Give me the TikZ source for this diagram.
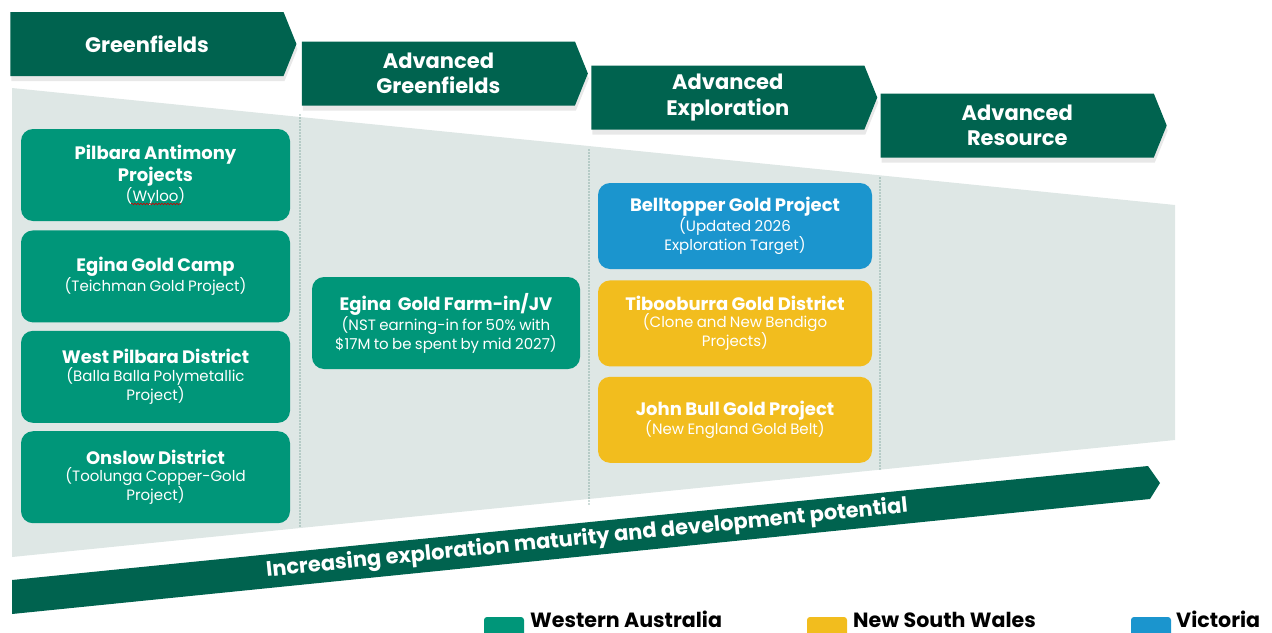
\documentclass[tikz,border=0pt]{standalone}
\usepackage{fontspec}
\setmainfont{Poppins}
\usetikzlibrary{shapes.symbols,positioning,shadows,decorations.pathmorphing}

\definecolor{stagegreen}{HTML}{00634F}
\definecolor{wagreen}{HTML}{009679}
\definecolor{nswyellow}{HTML}{F2BD1E}
\definecolor{vicblue}{HTML}{1B95CE}
\definecolor{funnelgrey}{HTML}{DEE7E5}
\definecolor{dotgreen}{HTML}{2E6E60}

\newcommand\titlefont{\fontsize{18}{22}\selectfont\bfseries}
\newcommand\subfont{\fontsize{15}{17.5}\selectfont}
\newcommand\proj[2]{{\titlefont #1\par}{\subfont #2\par}}

\begin{document}
\begin{tikzpicture}[
		x=1pt, y=-1pt,
		node distance=8pt,
		stage/.style={signal, signal to=east, signal from=nowhere, signal pointer angle=136,
			fill=stagegreen, text=white, inner sep=0pt, align=center,
			minimum width=286pt, minimum height=64pt,
			font=\fontsize{21}{25.5}\selectfont\bfseries,
			drop shadow={opacity=0.18, shadow xshift=1pt, shadow yshift=-5pt}},
		project/.style={rectangle, rounded corners=12pt, text=white, inner sep=2pt,
			text width=262pt, align=center, minimum width=269pt, minimum height=92pt},
		wa/.style={project, fill=wagreen},
		nsw/.style={project, fill=nswyellow, minimum width=274pt, minimum height=86pt},
		vic/.style={project, fill=vicblue, minimum width=274pt, minimum height=86pt},
		divider/.style={dotgreen, line width=1.2pt, dash pattern=on 0pt off 3pt, line cap=round},
		swatch/.style={rectangle, rounded corners=3pt, minimum width=40pt, minimum height=24pt, inner sep=0pt},
		legendtext/.style={font=\fontsize{20.6}{24}\selectfont\bfseries, text=black, inner sep=0pt}
		]
		\useasboundingbox (0,0) rectangle (1272,632);
		\clip (0,0) rectangle (1272,632);
		
		% funnel behind the columns
		\fill[funnelgrey] (12,88) -- (1175,205) -- (1175,440) -- (12,557) -- cycle;
		
		% stage headers
		\node (gf) [stage] at (147,44) {Greenfields};
		\node (agf) [stage, right=5pt of gf, yshift=-29.5pt] {Advanced\\Greenfields};
		\node (aexp) [stage, right=3pt of agf, yshift=-24pt] {Advanced\\Exploration};
		\node (ares) [stage, right=3pt of aexp, yshift=-28pt] {Advanced\\Resource};
		
		% column dividers
		\draw[divider] (300,115) -- (300,527);
		\draw[divider] (589,150) -- (589,505);
		\draw[divider] (880,178) -- (880,470);
		
		% Greenfields projects
		\node (pilbara) [wa] at (155.5,175) {\proj{Pilbara Antimony\\Projects}{(Wyloo)}};
		\node (egcamp) [wa, below=9pt of pilbara] {\proj{Egina Gold Camp}{(Teichman Gold Project)}};
		\node (wpilbara) [wa, below=of egcamp] {\proj{West Pilbara District}{(Balla Balla Polymetallic\\Project)}};
		\node (onslow) [wa, below=of wpilbara] {\proj{Onslow District}{(Toolunga Copper-Gold\\Project)}};
		\draw[red!80!black, line width=0.6pt, decorate,
			decoration={snake, amplitude=0.8pt, segment length=3pt}] (131,204) -- (181,204);
		
		% Advanced Greenfields
		\node (farmin) [wa, minimum width=268pt] at (446,323)
			{\proj{Egina\ \ Gold Farm-in/JV}{(NST earning-in for 50\% with\\\$17M to be spent by mid 2027)}};
		
		% Advanced Exploration
		\node (belltop) [vic] at (735,226) {\proj{Belltopper Gold Project}{(Updated 2026\\Exploration Target)}};
		\node (tiboo) [nsw, below=11pt of belltop] {\proj{Tibooburra Gold District}{(Clone and New Bendigo\\Projects)}};
		\node (jbull) [nsw, below=10pt of tiboo] {\proj{John Bull Gold Project}{(New England Gold Belt)}};
		
		% maturity arrow
		\fill[stagegreen] (12,580) -- (1148,466) -- (1160,483) -- (1150,499) -- (12,614) -- cycle;
		\node (maturity) [rotate=5.73, text=white, font=\fontsize{21}{25}\selectfont\bfseries]
			at (587,539) {Increasing exploration maturity and development potential};
		
		% legend
		\node (sw-wa) [swatch, fill=wagreen] at (504,629) {};
		\node (lg-wa) [legendtext, anchor=base west] at (530,627) {Western Australia};
		\node (sw-nsw) [swatch, fill=nswyellow] at (827,629) {};
		\node (lg-nsw) [legendtext, anchor=base west] at (853,627) {New South Wales};
		\node (sw-vic) [swatch, fill=vicblue] at (1151,629) {};
		\node (lg-vic) [legendtext, anchor=base west] at (1176,627) {Victoria};
		
	\end{tikzpicture}
\end{document}
